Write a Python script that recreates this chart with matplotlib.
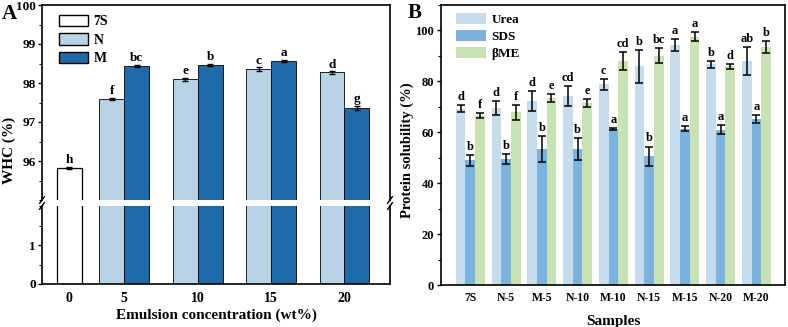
import matplotlib
matplotlib.use("Agg")
import matplotlib.pyplot as plt
import numpy as np
from matplotlib.patches import Patch
from matplotlib.ticker import MultipleLocator

plt.rcParams['font.family'] = ['Liberation Serif', 'DejaVu Serif']
plt.rcParams['font.weight'] = 'bold'
plt.rcParams['axes.labelweight'] = 'bold'

# ---------------- Panel A data ----------------
conc_labels = ['0', '5', '10', '15', '20']
whc_7s = 95.82
whc_7s_err = 0.03
whc_7s_sig = 'h'
whc_N = [97.59, 98.09, 98.36, 98.27]
whc_N_err = [0.03, 0.04, 0.04, 0.03]
whc_N_sig = ['f', 'e', 'c', 'd']
whc_M = [98.44, 98.47, 98.57, 97.36]
whc_M_err = [0.03, 0.03, 0.03, 0.05]
whc_M_sig = ['bc', 'b', 'a', 'g']

# ---------------- Panel B data ----------------
samples = ['7S', 'N-5', 'M-5', 'N-10', 'M-10', 'N-15', 'M-15', 'N-20', 'M-20']
urea = [69.3, 69.5, 72.3, 74.2, 78.9, 85.9, 94.3, 86.7, 88.0]
urea_err = [1.3, 2.9, 3.9, 3.9, 2.1, 6.4, 2.3, 1.3, 5.5]
urea_sig = ['d', 'd', 'd', 'cd', 'c', 'b', 'a', 'b', 'ab']
sds = [49.0, 49.6, 53.5, 53.5, 61.2, 50.6, 61.4, 61.0, 65.1]
sds_err = [2.1, 2.0, 5.2, 4.3, 0.5, 3.8, 1.0, 1.8, 1.6]
sds_sig = ['b', 'b', 'b', 'b', 'a', 'b', 'a', 'a', 'a']
bme = [66.5, 67.8, 73.6, 71.6, 88.1, 90.1, 97.6, 85.9, 93.5]
bme_err = [0.9, 2.8, 1.6, 1.6, 3.5, 3.0, 1.8, 0.9, 2.4]
bme_sig = ['f', 'f', 'e', 'e', 'cd', 'bc', 'a', 'd', 'b']

W, H = 788, 327
fig = plt.figure(figsize=(W / 100, H / 100), dpi=100)

def fx(px):
    return px / W

def fy(py):
    return 1 - py / H

c7s = 'white'
cN = '#b9d3e6'
cM = '#1f6aa8'

# Axes A (broken)
axU = fig.add_axes([fx(42), fy(200), fx(390 - 42), (200 - 5) / H])
axL = fig.add_axes([fx(42), fy(284), fx(390 - 42), (284 - 206) / H])

xpos = np.array([0, 0.75, 1.75, 2.75, 3.75])
bw = 0.34

for ax in (axU, axL):
    ax.bar(xpos[0], whc_7s, bw, color=c7s, edgecolor='black', linewidth=0.9, zorder=2)
    ax.bar(xpos[1:] - bw / 2, whc_N, bw, color=cN, edgecolor='black', linewidth=0.6, zorder=2)
    ax.bar(xpos[1:] + bw / 2, whc_M, bw, color=cM, edgecolor='black', linewidth=0.6, zorder=2)
    ax.set_xlim(-0.37, 4.37)

ekw = dict(fmt='none', ecolor='black', elinewidth=1.0, capsize=2.5, capthick=1.0, zorder=3)
axU.errorbar(xpos[0], whc_7s, yerr=whc_7s_err, **ekw)
axU.errorbar(xpos[1:] - bw / 2, whc_N, yerr=whc_N_err, **ekw)
axU.errorbar(xpos[1:] + bw / 2, whc_M, yerr=whc_M_err, **ekw)

axU.text(xpos[0], whc_7s + whc_7s_err + 0.02, whc_7s_sig, ha='center', va='bottom', fontsize=9.5, fontweight='bold')
for i in range(4):
    axU.text(xpos[i + 1] - bw / 2, whc_N[i] + whc_N_err[i] + 0.02, whc_N_sig[i], ha='center', va='bottom', fontsize=9.5, fontweight='bold')
    axU.text(xpos[i + 1] + bw / 2, whc_M[i] + whc_M_err[i] + 0.02, whc_M_sig[i], ha='center', va='bottom', fontsize=9.5, fontweight='bold')

axU.set_ylim(95, 100)
axL.set_ylim(0, 2)
axU.set_yticks([96, 97, 98, 99, 100])
axU.yaxis.set_minor_locator(MultipleLocator(0.5))
axL.set_yticks([0, 1])
axL.yaxis.set_minor_locator(MultipleLocator(0.5))
axU.spines['bottom'].set_visible(False)
axL.spines['top'].set_visible(False)
axU.tick_params(axis='x', bottom=False, labelbottom=False)
axL.set_xticks(xpos)
axL.set_xticklabels(conc_labels)
for ax in (axU, axL):
    ax.tick_params(axis='y', which='major', direction='out', length=3, width=1, labelsize=9.5, pad=1.5)
    ax.tick_params(axis='y', which='minor', direction='out', length=2, width=0.8)
    for s in ax.spines.values():
        s.set_linewidth(1.2)
axL.tick_params(axis='x', direction='in', length=0, labelsize=10, pad=6)
axL.set_xlabel('Emulsion concentration (wt%)', fontsize=11, fontweight='bold', labelpad=2)
fig.text(fx(9), fy(150), 'WHC (%)', rotation=90, ha='center', va='center', fontsize=11, fontweight='bold')

# break marks
d = 0.010
for xx in (0, 1):
    xf = fx(42) + xx * fx(390 - 42)
    for yy in (fy(200), fy(206)):
        fig.lines.append(plt.Line2D([xf - 0.003, xf + 0.003], [yy - d, yy + d], color='black', lw=1.0, transform=fig.transFigure))

axU.legend(handles=[Patch(facecolor=c7s, edgecolor='black', label='7S'),
                    Patch(facecolor=cN, edgecolor='black', label='N'),
                    Patch(facecolor=cM, edgecolor='black', label='M')],
           loc='upper left', frameon=False, handlelength=2.1, handleheight=0.9,
           labelspacing=0.35, handletextpad=0.4, borderaxespad=0.3, bbox_to_anchor=(0.02, 1.0),
           prop={'weight': 'bold', 'size': 10})
fig.text(fx(2), fy(14), 'A', fontsize=15, fontweight='bold', va='center')

# ---------------- Panel B ----------------
axB = fig.add_axes([fx(441), fy(285), fx(785 - 441), (285 - 5) / H])
cU = '#c6dbec'
cS = '#7db2dc'
cB = '#c9e2b4'
xb = np.arange(len(samples))
bwb = 0.27
axB.bar(xb - bwb, urea, bwb, color=cU, zorder=2)
axB.bar(xb, sds, bwb, color=cS, zorder=2)
axB.bar(xb + bwb, bme, bwb, color=cB, zorder=2)
ekwb = dict(fmt='none', ecolor='black', elinewidth=1.1, capsize=2.6, capthick=1.1, zorder=3)
axB.errorbar(xb - bwb, urea, yerr=urea_err, **ekwb)
axB.errorbar(xb, sds, yerr=sds_err, **ekwb)
axB.errorbar(xb + bwb, bme, yerr=bme_err, **ekwb)
for i in range(len(samples)):
    axB.text(xb[i] - bwb, urea[i] + urea_err[i] + 0.8, urea_sig[i], ha='center', va='bottom', fontsize=9, fontweight='bold')
    axB.text(xb[i], sds[i] + sds_err[i] + 0.8, sds_sig[i], ha='center', va='bottom', fontsize=9, fontweight='bold')
    axB.text(xb[i] + bwb, bme[i] + bme_err[i] + 0.8, bme_sig[i], ha='center', va='bottom', fontsize=9, fontweight='bold')
axB.set_xlim(-0.82, 8.8)
axB.set_ylim(0, 110)
axB.set_yticks([0, 20, 40, 60, 80, 100])
axB.yaxis.set_minor_locator(MultipleLocator(10))
axB.set_xticks(xb)
axB.set_xticklabels(samples)
axB.tick_params(axis='y', which='major', direction='out', length=3, width=1, labelsize=9, pad=2)
axB.tick_params(axis='y', which='minor', direction='out', length=2, width=0.8)
axB.tick_params(axis='x', direction='in', length=3, width=1, labelsize=8.5, pad=5)
for s in axB.spines.values():
    s.set_linewidth(1.2)
axB.set_xlabel('Samples', fontsize=11, fontweight='bold', labelpad=8)
fig.text(fx(407), fy(150), 'Protein solubility (%)', rotation=90, ha='center', va='center',
         fontsize=10.5, fontweight='bold')
axB.legend(handles=[Patch(facecolor=cU, label='Urea'),
                    Patch(facecolor=cS, label='SDS'),
                    Patch(facecolor=cB, label='βME')],
           loc='upper left', frameon=False, handlelength=2.3, handleheight=0.9,
           labelspacing=0.3, handletextpad=0.4, borderaxespad=0.2, bbox_to_anchor=(0.02, 1.0),
           prop={'weight': 'bold', 'size': 9.5})
fig.text(fx(408), fy(13), 'B', fontsize=15, fontweight='bold', va='center')

fig.savefig('out.png', dpi=100)
